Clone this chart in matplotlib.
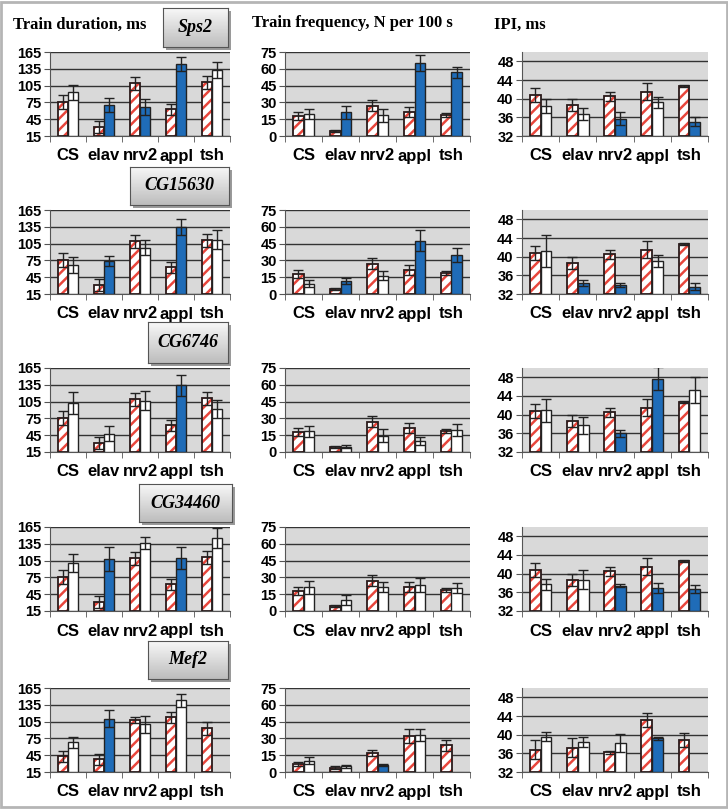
import numpy as np
import matplotlib.pyplot as plt
from matplotlib.patches import Rectangle

# categories and genes
cats = ['CS', 'elav', 'nrv2', 'appl', 'tsh']
genes = ['Sps2', 'CG15630', 'CG6746', 'CG34460', 'Mef2']

# control (hatched) bars, shared by the first four genes
ctrl_dur = [76, 31, 109, 63, 111]
ctrl_dur_err = [13, 10, 11, 10, 12]
ctrl_freq = [17.8, 4.7, 27, 21.6, 18.4]
ctrl_freq_err = [3.8, 0.8, 5, 4.4, 1.8]
ctrl_ipi = [40.7, 38.7, 40.5, 41.5, 42.8]
ctrl_ipi_err = [1.5, 1.3, 0.9, 1.8, 0.2]

# Mef2 has its own control bars
mef2_ctrl_dur = [43, 38, 108, 113, 93]
mef2_ctrl_dur_err = [10, 10, 5, 10, 12]
mef2_ctrl_freq = [7, 4, 17, 32, 24]
mef2_ctrl_freq_err = [2, 1, 3, 6, 5]
mef2_ctrl_ipi = [36.8, 37.2, 36.2, 43.1, 38.8]
mef2_ctrl_ipi_err = [2, 2, 0.3, 1.5, 1.5]

# knockdown bars, 1 = significant (blue)
sps2_dur = [92.7, 70, 67, 143.7, 133]
sps2_dur_err = [13.3, 13, 14, 12.3, 15]
sps2_dur_sig = [0, 1, 1, 1, 0]
sps2_freq = [19.6, 21, 18.4, 65.5, 57]
sps2_freq_err = [4.7, 5.7, 5.9, 7.1, 5]
sps2_freq_sig = [0, 1, 0, 1, 1]
sps2_ipi = [38.5, 36.7, 35.7, 39.2, 35.1]
sps2_ipi_err = [1.5, 1.3, 1.4, 1.1, 0.9]
sps2_ipi_sig = [0, 0, 1, 0, 1]

cg15630_dur = [66.8, 74, 98, 135, 112]
cg15630_dur_err = [15, 9, 13, 14, 17]
cg15630_dur_sig = [0, 1, 0, 1, 0]
cg15630_freq = [9.3, 11.7, 16.5, 47.4, 34.8]
cg15630_freq_err = [3, 3, 3.9, 9.3, 6]
cg15630_freq_sig = [0, 1, 0, 1, 1]
cg15630_ipi = [41.2, 34.4, 33.9, 39, 33.6]
cg15630_ipi_err = [3.4, 0.7, 0.5, 1.3, 0.8]
cg15630_ipi_sig = [0, 1, 1, 0, 1]

cg6746_dur = [102, 48, 106.8, 133.8, 91]
cg6746_dur_err = [20, 14, 17, 19, 16]
cg6746_dur_sig = [0, 0, 0, 1, 0]
cg6746_freq = [18.6, 4.8, 14.4, 9.9, 19.8]
cg6746_freq_err = [4.8, 1.2, 5.7, 3.3, 5.1]
cg6746_freq_sig = [0, 0, 0, 0, 0]
cg6746_ipi = [40.9, 37.7, 36, 47.7, 45.3]
cg6746_ipi_err = [2.4, 1.9, 0.7, 2.5, 2.8]
cg6746_ipi_sig = [0, 0, 1, 1, 0]

cg34460_dur = [100.8, 108, 136, 109.8, 145.8]
cg34460_dur_err = [15.6, 21, 11, 19, 18]
cg34460_dur_sig = [0, 1, 0, 1, 0]
cg34460_freq = [21.3, 9.9, 21.3, 23.4, 20.4]
cg34460_freq_err = [5.7, 4.5, 4.5, 6, 4.2]
cg34460_freq_sig = [0, 0, 0, 0, 0]
cg34460_ipi = [37.7, 38.7, 37.4, 36.9, 36.7]
cg34460_ipi_err = [1.2, 2, 0.3, 1.1, 0.8]
cg34460_ipi_sig = [0, 0, 1, 1, 1]

mef2_dur = [68, 110, 100, 143, np.nan]
mef2_dur_err = [10, 15, 15, 12, 0]
mef2_dur_sig = [0, 1, 0, 0, 0]
mef2_freq = [10, 5, 6, 33, np.nan]
mef2_freq_err = [3, 1, 1, 5, 0]
mef2_freq_sig = [0, 0, 1, 0, 0]
mef2_ipi = [39.6, 38.4, 38.2, 39.2, np.nan]
mef2_ipi_err = [1, 1, 2, 0.3, 0]
mef2_ipi_sig = [0, 0, 0, 1, 0]

col_titles = ['Train duration, ms', 'Train frequency, N per 100 s', 'IPI, ms']
y_ticks = [[15, 45, 75, 105, 135, 165], [0, 15, 30, 45, 60, 75], [32, 36, 40, 44, 48]]
y_lims = [(15, 165), (0, 75), (32, 50)]

rows = [
    [(ctrl_dur, ctrl_dur_err, sps2_dur, sps2_dur_err, sps2_dur_sig),
     (ctrl_freq, ctrl_freq_err, sps2_freq, sps2_freq_err, sps2_freq_sig),
     (ctrl_ipi, ctrl_ipi_err, sps2_ipi, sps2_ipi_err, sps2_ipi_sig)],
    [(ctrl_dur, ctrl_dur_err, cg15630_dur, cg15630_dur_err, cg15630_dur_sig),
     (ctrl_freq, ctrl_freq_err, cg15630_freq, cg15630_freq_err, cg15630_freq_sig),
     (ctrl_ipi, ctrl_ipi_err, cg15630_ipi, cg15630_ipi_err, cg15630_ipi_sig)],
    [(ctrl_dur, ctrl_dur_err, cg6746_dur, cg6746_dur_err, cg6746_dur_sig),
     (ctrl_freq, ctrl_freq_err, cg6746_freq, cg6746_freq_err, cg6746_freq_sig),
     (ctrl_ipi, ctrl_ipi_err, cg6746_ipi, cg6746_ipi_err, cg6746_ipi_sig)],
    [(ctrl_dur, ctrl_dur_err, cg34460_dur, cg34460_dur_err, cg34460_dur_sig),
     (ctrl_freq, ctrl_freq_err, cg34460_freq, cg34460_freq_err, cg34460_freq_sig),
     (ctrl_ipi, ctrl_ipi_err, cg34460_ipi, cg34460_ipi_err, cg34460_ipi_sig)],
    [(mef2_ctrl_dur, mef2_ctrl_dur_err, mef2_dur, mef2_dur_err, mef2_dur_sig),
     (mef2_ctrl_freq, mef2_ctrl_freq_err, mef2_freq, mef2_freq_err, mef2_freq_sig),
     (mef2_ctrl_ipi, mef2_ctrl_ipi_err, mef2_ipi, mef2_ipi_err, mef2_ipi_sig)],
]

plt.rcParams['hatch.linewidth'] = 1.8
W, H = 728, 809
fig = plt.figure(figsize=(W / 100, H / 100), dpi=100)
fig.patch.set_facecolor('white')


def px_axes(left, top, width, height, **kw):
    return fig.add_axes([left / W, 1 - (top + height) / H, width / W, height / H], **kw)


row_tops = [52, 210, 368, 527, 688]
col_lefts = [50, 285, 522]
col_widths = [180, 185, 186]
ax_h = 84
bw = 0.29
blue = '#1f6cb8'
sans = 'Liberation Sans'
serif = 'Liberation Serif'

x = np.arange(len(cats))
for r, row in enumerate(rows):
    for c, (cv, ce, kv, ke, ks) in enumerate(row):
        ax = px_axes(col_lefts[c], row_tops[r], col_widths[c], ax_h)
        ax.set_facecolor('#d9d9d9')
        lo = y_lims[c][0]
        cv = np.array(cv, dtype=float)
        kv = np.array(kv, dtype=float)
        # hatched control bars
        ax.bar(x - bw / 2, cv - lo, bw, bottom=lo, color='white', edgecolor='#e8463c',
               hatch='///', linewidth=0, zorder=2)
        ax.bar(x - bw / 2, cv - lo, bw, bottom=lo, fill=False, edgecolor='#2a1a1a',
               linewidth=1.3, zorder=3)
        ax.errorbar(x - bw / 2, cv, yerr=ce, fmt='none', ecolor='#222222',
                    elinewidth=1, capsize=3.5, capthick=1, zorder=4)
        cols = [blue if s else 'white' for s in ks]
        ax.bar(x + bw / 2, kv - lo, bw, bottom=lo, color=cols, edgecolor='#222222',
               linewidth=1, zorder=3)
        ax.errorbar(x + bw / 2, kv, yerr=ke, fmt='none', ecolor='#222222',
                    elinewidth=1, capsize=3.5, capthick=1, zorder=4)

        ax.set_ylim(*y_lims[c])
        ax.set_xlim(-0.5, len(cats) - 0.5)
        ax.set_yticks(y_ticks[c])
        ax.set_yticklabels([str(t) for t in y_ticks[c]], fontsize=10.5,
                           fontweight='bold', family=sans)
        ax.yaxis.grid(True, color='#333333', linewidth=1)
        ax.set_axisbelow(True)
        ax.set_xticks(x)
        ax.set_xticklabels(cats, fontsize=12, fontweight='bold', family=sans)
        ax.set_xticks(np.arange(-0.5, len(cats)), minor=True)
        ax.tick_params(axis='x', which='major', length=0, pad=9)
        ax.tick_params(axis='x', which='minor', length=4, color='#555555')
        ax.tick_params(axis='y', length=4, color='#555555', pad=2)
        for s in ['top', 'right']:
            ax.spines[s].set_visible(False)
        ax.spines['left'].set_color('#555555')
        ax.spines['bottom'].set_color('#555555')

# column titles
fig.text(13 / W, 1 - 25 / H, col_titles[0], family=serif, fontweight='bold',
         fontsize=12, va='center', ha='left')
fig.text(252 / W, 1 - 23 / H, col_titles[1], family=serif, fontweight='bold',
         fontsize=12, va='center', ha='left')
fig.text(494 / W, 1 - 25 / H, col_titles[2], family=serif, fontweight='bold',
         fontsize=12, va='center', ha='left')

# gene name boxes
boxes = [(163, 8, 65, 39), (130, 167, 99, 38), (148, 322, 80, 41),
         (139, 484, 93, 38), (148, 641, 80, 38)]
grad = np.linspace(0.97, 0.74, 50).reshape(-1, 1)
for g, (bx, by, bwid, bh) in zip(genes, boxes):
    sh = px_axes(bx + 3, by + 3, bwid, bh)
    sh.set_facecolor('#9a9a9a')
    sh.set_xticks([])
    sh.set_yticks([])
    for s in sh.spines.values():
        s.set_visible(False)
    bax = px_axes(bx, by, bwid, bh)
    bax.imshow(grad, cmap='gray', vmin=0, vmax=1, aspect='auto', extent=(0, 1, 0, 1))
    bax.set_xticks([])
    bax.set_yticks([])
    for s in bax.spines.values():
        s.set_color('#555555')
    bax.text(0.5, 0.5, g, transform=bax.transAxes, ha='center', va='center',
             family=serif, style='italic', fontweight='bold', fontsize=13)

# outer frame
fig.patches.append(Rectangle((0.002, 0.002), 0.996, 0.996, transform=fig.transFigure,
                             fill=False, edgecolor='#b5b5b5', linewidth=2))

fig.savefig('out.png', dpi=100)
